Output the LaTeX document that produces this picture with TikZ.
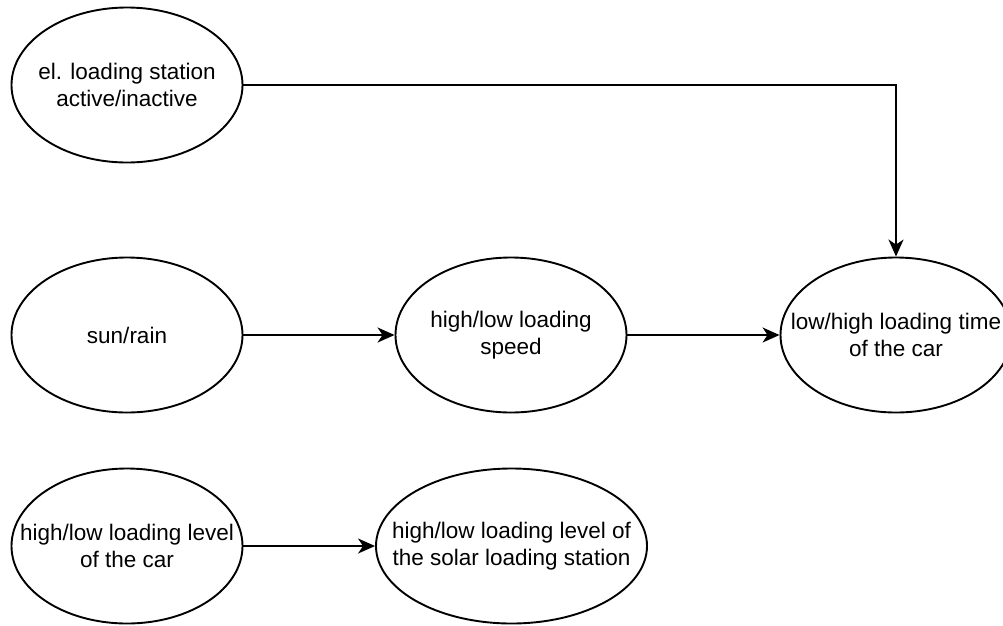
\documentclass[tikz,border=0pt]{standalone}
\usepackage{fontspec}
\setmainfont{Liberation Sans}
\usetikzlibrary{shapes.geometric,arrows.meta}
\begin{document}
\begin{tikzpicture}[x=1pt,y=-1pt,
  state/.style={ellipse,draw=black,line width=1.9pt,fill=white,
    minimum width=231pt,minimum height=155pt,inner xsep=-80pt,inner ysep=-30pt,
    align=center,font=\fontsize{22.5}{27}\selectfont},
  wide/.style={minimum width=271pt},
  arr/.style={line width=1.9pt,-{Stealth[length=17pt,width=15pt,inset=5pt]}}]
\useasboundingbox (0,0) rectangle (1003,625);
\fill[white] (0,0) rectangle (1003,625);

\node[state] (station) at (127,85) {el. loading station\\active/inactive};
\node[state] (sun) at (127,335) {sun/rain};
\node[state] (speed) at (511,335) {high/low loading\\speed};
\node[state] (time) at (896,335) {low/high loading time\\of the car};
\node[state] (level) at (127,546) {high/low loading level\\of the car};
\node[state,wide] (solar) at (511.5,546) {high/low loading level of\\the solar loading station};

\draw[arr] (station.east) -| (time.north);
\draw[arr] (sun) -- (speed);
\draw[arr] (speed) -- (time);
\draw[arr] (level) -- (solar);
\end{tikzpicture}
\end{document}
